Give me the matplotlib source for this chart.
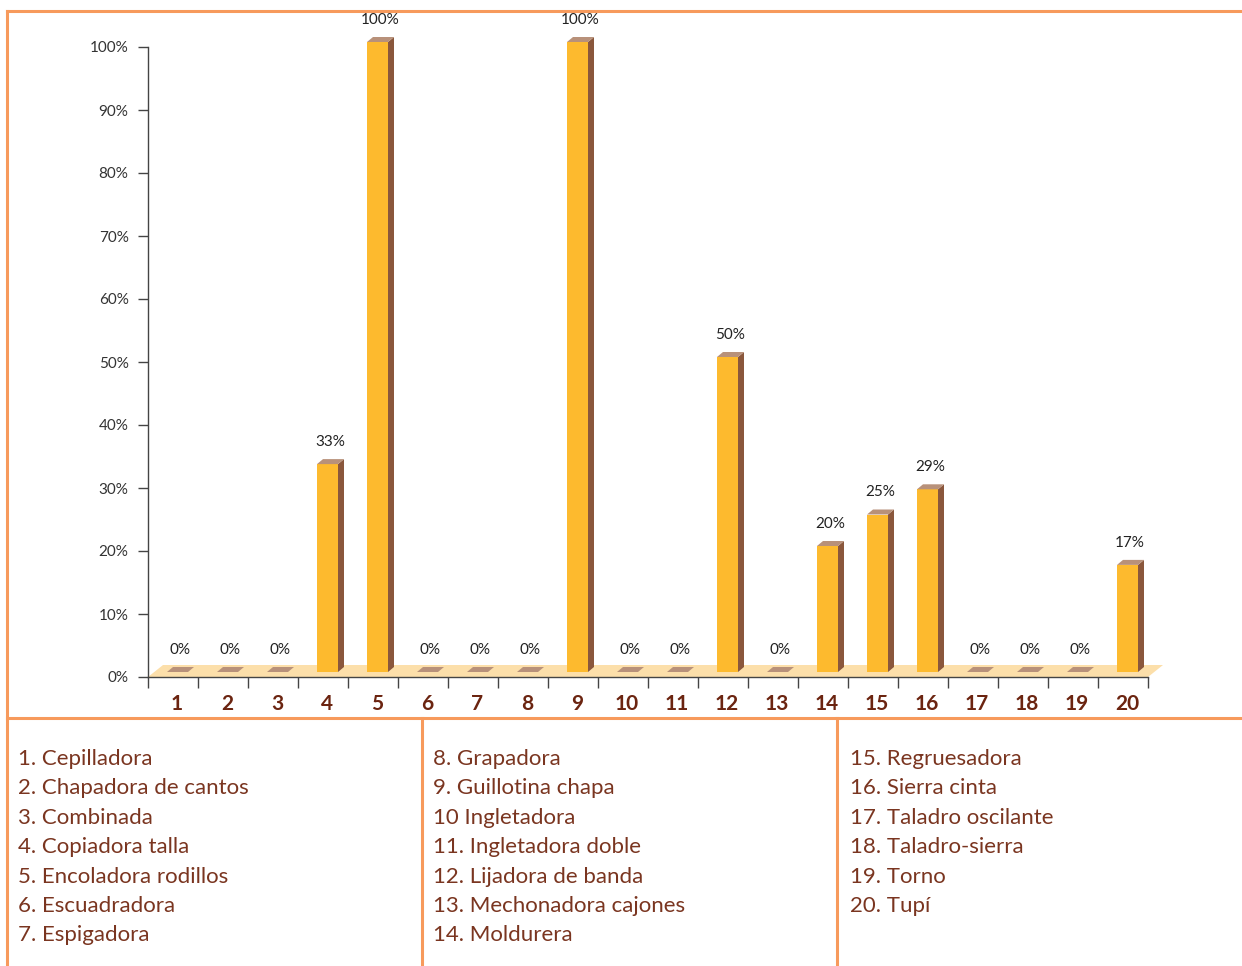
import matplotlib.pyplot as plt
from matplotlib.patches import Polygon
from matplotlib.lines import Line2D

# Porcentaje por tipo de maquina
numeros = list(range(1, 21))
valores = [0, 0, 0, 33, 100, 0, 0, 0, 100, 0, 0, 50, 0, 20, 25, 29, 0, 0, 0, 17]
maquinas = [
    "1. Cepilladora", "2. Chapadora de cantos", "3. Combinada",
    "4. Copiadora talla", "5. Encoladora rodillos", "6. Escuadradora",
    "7. Espigadora", "8. Grapadora", "9. Guillotina chapa", "10 Ingletadora",
    "11. Ingletadora doble", "12. Lijadora de banda", "13. Mechonadora cajones",
    "14. Moldurera", "15. Regruesadora", "16. Sierra cinta",
    "17. Taladro oscilante", "18. Taladro-sierra", "19. Torno", "20. Tupí",
]
yticks = list(range(0, 101, 10))

plt.rcParams['font.family'] = ['Lato', 'DejaVu Sans']

W, H = 1242, 966
fig = plt.figure(figsize=(W / 100, H / 100), dpi=100)

# area del grafico en pixeles
x0, x1 = 148, 1148
y0, y1 = 677, 47
ax = fig.add_axes([x0 / W, (H - y0) / H, (x1 - x0) / W, (y0 - y1) / H])
ax.set_xlim(0, 20)
ax.set_ylim(0, 100)

px = 20 / (x1 - x0)
py = 100 / (y0 - y1)

FRENTE = '#FDBA2E'
LADO = '#8A573C'
TAPA = '#B8917A'
SUELO = '#FCDFAA'
MARRON = '#6B2410'

# suelo
dx, dy = 15 * px, 12 * py
ax.add_patch(Polygon([(0, 0), (20, 0), (20 + dx, dy), (dx, dy)],
                     closed=True, fc=SUELO, ec='none', zorder=1, clip_on=False))

# barras con falsa perspectiva
bx, by = 6 * px, 5 * py
base = 5 * py
for n, v in zip(numeros, valores):
    c = n - 0.5
    l, r = c - 6 * px, c + 15 * px
    top = base + v
    if v > 0:
        ax.add_patch(Polygon([(l, base), (r, base), (r, top), (l, top)],
                             fc=FRENTE, ec='none', zorder=3, clip_on=False))
        ax.add_patch(Polygon([(r, base), (r + bx, base + by), (r + bx, top + by), (r, top)],
                             fc=LADO, ec='none', zorder=3, clip_on=False))
    ax.add_patch(Polygon([(l, top), (r, top), (r + bx, top + by), (l + bx, top + by)],
                         fc=TAPA, ec='none', zorder=3, clip_on=False))
    ax.annotate(f"{v}%", (c + 7 * px, top + by), xytext=(0, 12.5),
                textcoords='offset points', ha='center', va='center',
                fontsize=11, color='#222222', zorder=5, annotation_clip=False)

# ejes
for s in ['top', 'right']:
    ax.spines[s].set_visible(False)
for s in ['left', 'bottom']:
    ax.spines[s].set_color('#444444')
    ax.spines[s].set_linewidth(1)
    ax.spines[s].set_zorder(2)

ax.set_yticks(yticks)
ax.set_yticklabels([f"{t}%" for t in yticks], fontsize=11, color='#333333')
ax.tick_params(axis='y', length=7, width=1, color='#444444', pad=7)

ax.set_xticks(range(0, 21))
ax.set_xticklabels([])
ax.tick_params(axis='x', which='major', length=8, width=1, color='#444444')
ax.set_xticks([n - 0.5 + 4 * px for n in numeros], minor=True)
ax.set_xticklabels([str(n) for n in numeros], minor=True,
                   fontsize=15, fontweight='bold', color=MARRON)
ax.tick_params(axis='x', which='minor', length=0, pad=12)
ax.set_facecolor('none')


# marco naranja
def linea(xa, ya, xb, yb):
    fig.add_artist(Line2D([xa / W, xb / W], [1 - ya / H, 1 - yb / H],
                          color='#F79A5C', lw=2.2))


linea(7, 11, W, 11)
linea(7, 11, 7, H)
linea(7, 718, W, 718)
linea(422, 718, 422, H)
linea(837, 718, 837, H)

# leyenda en tres columnas
columnas = [18, 433, 850]
for i, texto in enumerate(maquinas):
    col, fila = divmod(i, 7)
    fig.text(columnas[col] / W, 1 - (759 + 29.4 * fila) / H, texto,
             fontsize=16, color='#7A3520', ha='left', va='center')

fig.savefig('out.png', dpi=100)
